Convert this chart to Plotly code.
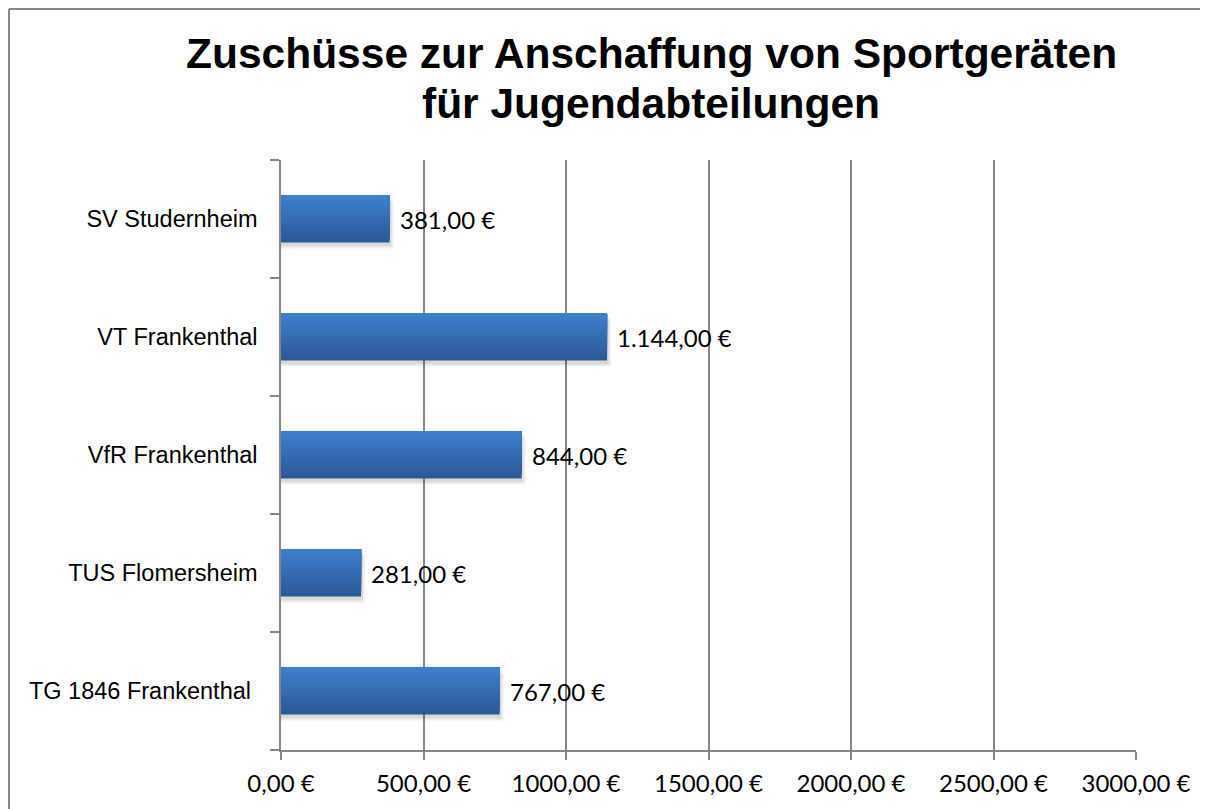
import plotly.graph_objects as go

# Data (bottom-to-top order, as drawn on the category axis)
clubs = ["TG 1846 Frankenthal ", "TUS Flomersheim", "VfR Frankenthal", "VT Frankenthal", "SV Studernheim"]
amounts = [767, 281, 844, 1144, 381]
x_tick_values = [0, 500, 1000, 1500, 2000, 2500, 3000]
x_tick_labels = ["0,00 €", "500,00 €", "1000,00 €", "1500,00 €", "2000,00 €", "2500,00 €", "3000,00 €"]
title_lines = ["Zuschüsse zur Anschaffung von Sportgeräten", "für Jugendabteilungen"]


def euro(v):
    s = f"{v:,.2f}"
    s = s.replace(",", "X").replace(".", ",").replace("X", ".")
    return s + " €"


W, H = 1208, 809
# page is shown with an 8px body margin
L, T = 273, 152
R, B = W - 1128, H - 742
PW, PH = W - L - R, H - T - B
X_MAX = 3000
px_x = X_MAX / PW          # data units per pixel along x
px_y = len(clubs) / PH     # category units per pixel along y

fig = go.Figure()

bar_width = 0.4

# soft drop shadow (two translucent layers, shifted right/down by a few pixels)
for grow_x, drop_y, alpha in [(4, 6, 0.06), (2, 4, 0.09)]:
    fig.add_trace(go.Bar(
        x=[a + grow_x * px_x for a in amounts], y=clubs, orientation="h",
        width=bar_width,
        offset=-bar_width / 2 - drop_y * px_y,
        marker=dict(color=f"rgba(0,0,0,{alpha})", line=dict(width=0)),
        showlegend=False, hoverinfo="skip",
    ))

# Bars drawn as nested slices (all sharing the top edge) to imitate the vertical gradient
n_slices = 20
dark = (44, 88, 150)
light = (62, 127, 205)
step = bar_width / n_slices
for i in range(n_slices):
    t = i / (n_slices - 1)
    c = tuple(round(dark[k] + (light[k] - dark[k]) * t) for k in range(3))
    fig.add_trace(go.Bar(
        x=amounts, y=clubs, orientation="h",
        width=bar_width - i * step,
        offset=-bar_width / 2 + i * step,
        marker=dict(color=f"rgb{c}", line=dict(width=0)),
        showlegend=False, hoverinfo="skip",
    ))

for v, c in zip(amounts, clubs):
    fig.add_annotation(
        x=v, y=c, text=euro(v), showarrow=False, xanchor="left", yanchor="middle",
        xshift=8, font=dict(family="Lato", size=24, color="#000000"),
    )

# Title as two lines
title_centers = [54, 104]  # screen y of line centres (incl. 8px page margin)
for line, yc in zip(title_lines, title_centers):
    fig.add_annotation(
        xref="paper", yref="paper",
        x=(643 - L) / PW, y=(742 - (yc - 8)) / PH,
        text=line, showarrow=False, xanchor="center", yanchor="middle",
        font=dict(family="Liberation Sans", size=42.5, color="#000000", weight="bold"),
    )

axis_grey = "#868686"

# Outer chart border: top and left edges (right/bottom fall outside the window)
x_left = (1 - L) / PW
y_top = (PH + T - 1) / PH
fig.add_shape(type="line", xref="paper", yref="paper",
              x0=x_left, x1=(W - L) / PW, y0=y_top, y1=y_top,
              line=dict(color=axis_grey, width=2), layer="below")
fig.add_shape(type="line", xref="paper", yref="paper",
              x0=x_left, x1=x_left, y0=-B / PH, y1=y_top,
              line=dict(color=axis_grey, width=2), layer="below")

fig.update_layout(
    width=W, height=H, autosize=False,
    margin=dict(l=L, r=R, t=T, b=B, pad=0, autoexpand=False),
    paper_bgcolor="white", plot_bgcolor="white",
    barmode="overlay", bargap=0.6,
    xaxis=dict(
        range=[0, X_MAX], tickvals=x_tick_values, ticktext=x_tick_labels,
        showgrid=True, gridcolor=axis_grey, gridwidth=1.5,
        showline=True, linecolor=axis_grey, linewidth=1.5,
        ticks="outside", ticklen=8, tickcolor=axis_grey, tickwidth=1.5,
        tickfont=dict(family="Lato", size=24, color="#000000"),
        ticklabelstandoff=3, zeroline=False, fixedrange=True, automargin=False,
    ),
    yaxis=dict(
        type="category", categoryorder="array", categoryarray=clubs,
        showgrid=False, showline=True, linecolor=axis_grey, linewidth=1.5,
        ticks="outside", ticklen=9, tickcolor=axis_grey, tickwidth=1.5,
        tickson="boundaries",
        tickfont=dict(family="Liberation Sans", size=23.5, color="#000000"),
        ticklabelstandoff=17, zeroline=False, fixedrange=True, automargin=False,
    ),
)

fig.write_html("out.html")
